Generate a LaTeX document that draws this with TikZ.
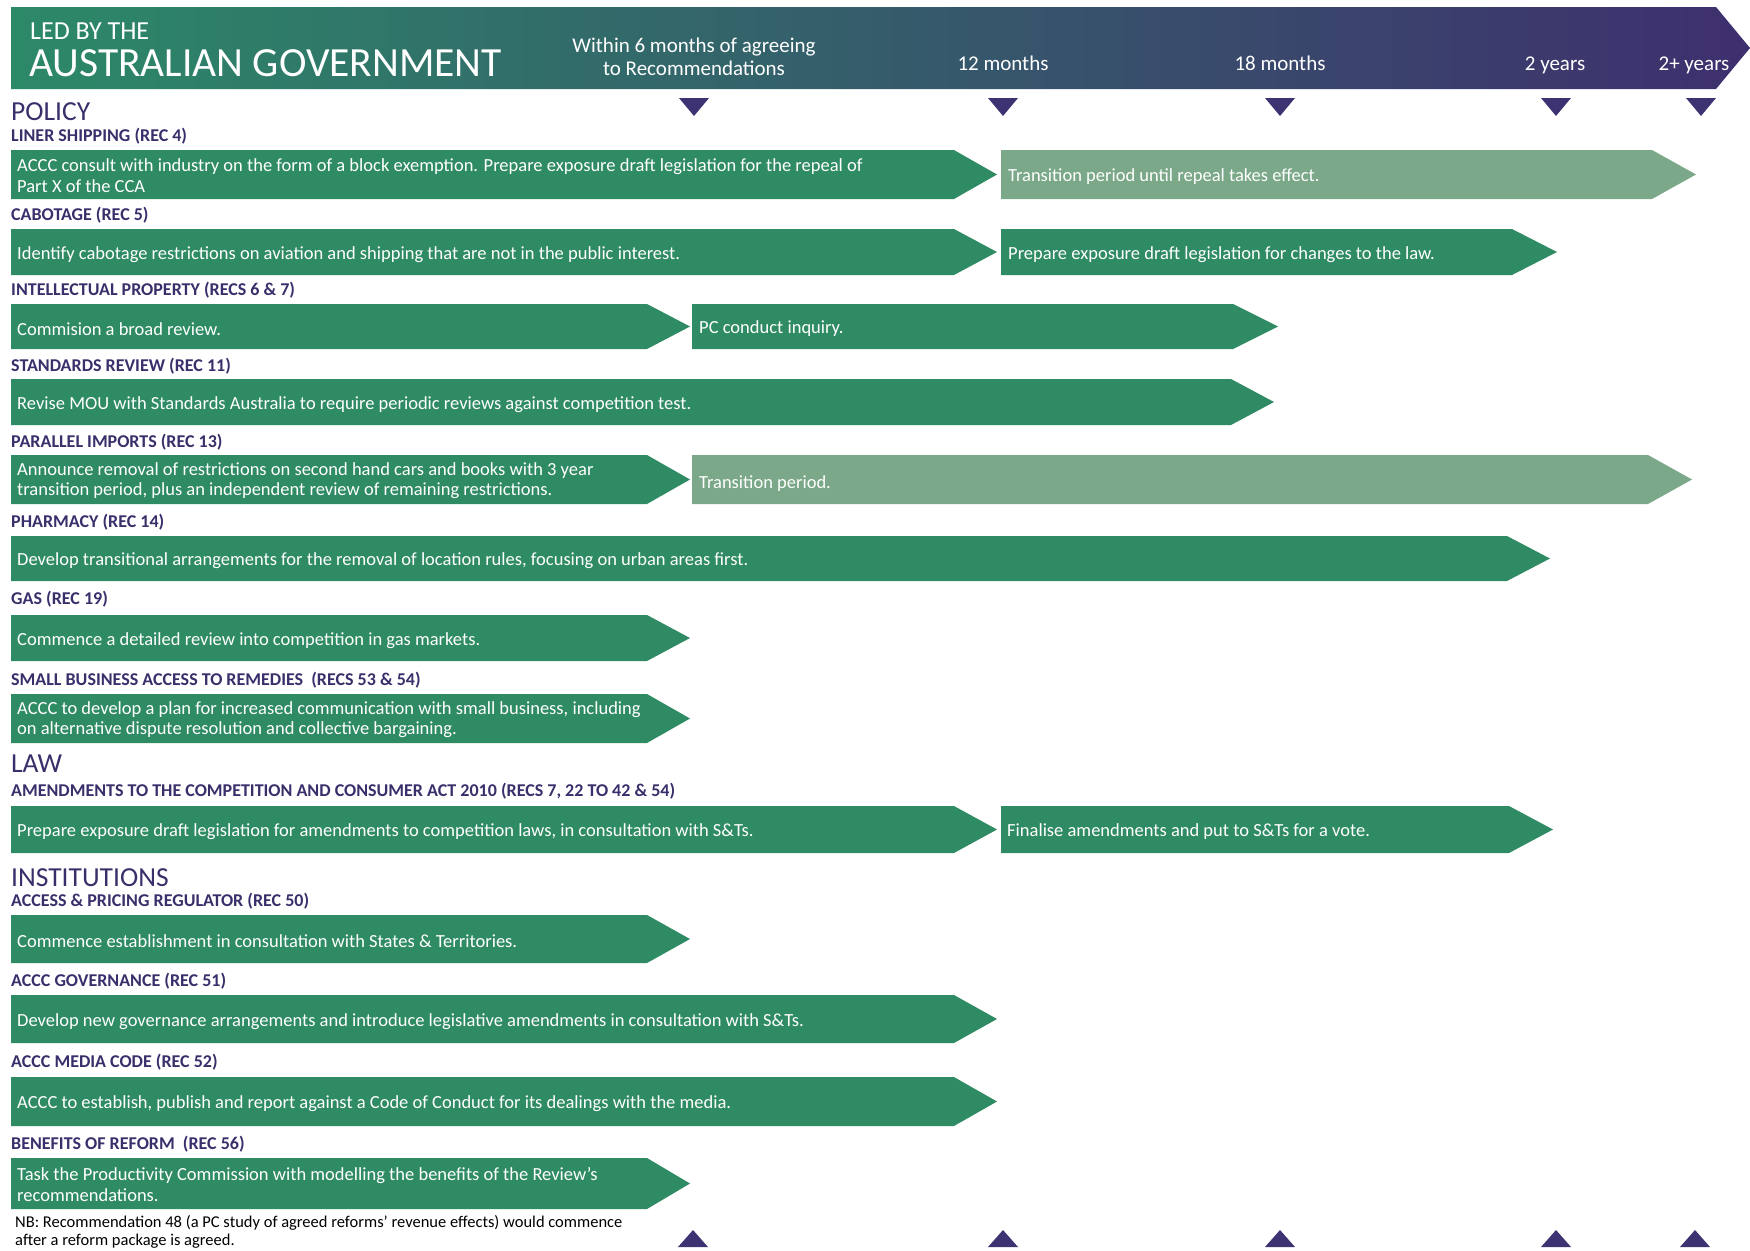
\documentclass[tikz,border=0pt]{standalone}
\usepackage{fontspec}
\setmainfont{Carlito}
\definecolor{barGreen}{RGB}{47,139,99}
\definecolor{barLight}{RGB}{122,168,136}
\definecolor{headGreen}{RGB}{44,137,104}
\definecolor{headPurple}{RGB}{62,47,110}
\definecolor{secPurple}{RGB}{58,46,107}
\definecolor{markPurple}{RGB}{61,51,115}

\begin{document}
\begin{tikzpicture}[x=1pt,y=-1pt,
  bartext/.style={anchor=west,inner sep=0pt,yshift=-2.5pt,text=white,align=left,font=\fontsize{18.5}{20.5}\selectfont},
  twoline/.style={bartext,yshift=1.5pt},
  subhead/.style={anchor=west,inner sep=0pt,text=secPurple,font=\fontsize{18}{20}\selectfont\bfseries},
  section/.style={anchor=west,inner sep=0pt,text=secPurple,font=\fontsize{27.5}{30}\selectfont},
  timelabel/.style={inner sep=0pt,text=white,align=center,font=\fontsize{21}{23}\selectfont}]
  \useasboundingbox (0,0) rectangle (1750,1250);

  % Cabecera
  \shade[left color=headGreen,right color=headPurple] (11,7) -- (1716,7) -- (1750,48) -- (1716,89) -- (11,89) -- cycle;
  \node[anchor=west,inner sep=0pt,text=white,font=\fontsize{26}{28}\selectfont] (ledby) at (30,31) {LED BY THE};
  \node[anchor=west,inner sep=0pt,text=white,font=\fontsize{41.5}{44}\selectfont] (govt) at (29,63) {AUSTRALIAN GOVERNMENT};
  \node[timelabel] (t6) at (694,57) {Within 6 months of agreeing\\to Recommendations};
  \node[timelabel] (t12) at (1003,63) {12 months};
  \node[timelabel] (t18) at (1280,63) {18 months};
  \node[timelabel] (t24) at (1555,65) {2 years};
  \node[timelabel] (t24p) at (1694,65) {2+ years};

  % Marcas
  \fill[markPurple] (679,98) -- (709,98) -- (694,116) -- cycle;
  \fill[markPurple] (988,98) -- (1018,98) -- (1003,116) -- cycle;
  \fill[markPurple] (1265,98) -- (1295,98) -- (1280,116) -- cycle;
  \fill[markPurple] (1541,98) -- (1571,98) -- (1556,116) -- cycle;
  \fill[markPurple] (1686,98) -- (1716,98) -- (1701,116) -- cycle;
  \fill[markPurple] (678,1247) -- (708,1247) -- (693,1230) -- cycle;
  \fill[markPurple] (988,1247) -- (1018,1247) -- (1003,1230) -- cycle;
  \fill[markPurple] (1265,1247) -- (1295,1247) -- (1280,1230) -- cycle;
  \fill[markPurple] (1541,1247) -- (1571,1247) -- (1556,1230) -- cycle;
  \fill[markPurple] (1680,1247) -- (1710,1247) -- (1695,1230) -- cycle;

  % Policy
  \node[section] (policy) at (11,112) {POLICY};

  \node[subhead] (liner) at (11,136) {LINER SHIPPING (REC 4)};
  \fill[barGreen] (11,150) -- (954,150) -- (997,174.5) -- (954,199) -- (11,199) -- cycle;
  \fill[barLight] (1001,150) -- (1652,150) -- (1696,174.5) -- (1652,199) -- (1001,199) -- cycle;
  \node[twoline] (linerA) at (17,174.5) {ACCC consult with industry on the form of a block exemption. Prepare exposure draft legislation for the repeal of\\Part X of the CCA};
  \node[bartext] (linerB) at (1008,174.5) {Transition period until repeal takes effect.};

  \node[subhead] (cabot) at (11,215) {CABOTAGE (REC 5)};
  \fill[barGreen] (11,229) -- (954,229) -- (997,252) -- (954,275) -- (11,275) -- cycle;
  \fill[barGreen] (1001,229) -- (1512,229) -- (1557,252) -- (1512,275) -- (1001,275) -- cycle;
  \node[bartext] (cabotA) at (17,252) {Identify cabotage restrictions on aviation and shipping that are not in the public interest.};
  \node[bartext] (cabotB) at (1008,252) {Prepare exposure draft legislation for changes to the law.};

  \node[subhead] (ip) at (11,290) {INTELLECTUAL PROPERTY (RECS 6 \& 7)};
  \fill[barGreen] (11,304) -- (647,304) -- (690,326.5) -- (647,349) -- (11,349) -- cycle;
  \fill[barGreen] (692,304) -- (1233,304) -- (1278,326.5) -- (1233,349) -- (692,349) -- cycle;
  \node[bartext] (ipA) at (17,326.5) {Commision a broad review.};
  \node[bartext] (ipB) at (699,326.5) {PC conduct inquiry.};

  \node[subhead] (stand) at (11,366) {STANDARDS REVIEW (REC 11)};
  \fill[barGreen] (11,379) -- (1231,379) -- (1274,402) -- (1231,425) -- (11,425) -- cycle;
  \node[bartext] (standA) at (17,402) {Revise MOU with Standards Australia to require periodic reviews against competition test.};

  \node[subhead] (para) at (11,442) {PARALLEL IMPORTS (REC 13)};
  \fill[barGreen] (11,455) -- (647,455) -- (690,479.5) -- (647,504) -- (11,504) -- cycle;
  \fill[barLight] (692,455) -- (1648,455) -- (1692,479.5) -- (1648,504) -- (692,504) -- cycle;
  \node[twoline] (paraA) at (17,479.5) {Announce removal of restrictions on second hand cars and books with 3 year\\transition period, plus an independent review of remaining restrictions.};
  \node[bartext] (paraB) at (699,481) {Transition period.};

  \node[subhead] (pharm) at (11,522) {PHARMACY (REC 14)};
  \fill[barGreen] (11,536) -- (1507,536) -- (1550,558.5) -- (1507,581) -- (11,581) -- cycle;
  \node[bartext] (pharmA) at (17,558.5) {Develop transitional arrangements for the removal of location rules, focusing on urban areas first.};

  \node[subhead] (gas) at (11,599) {GAS (REC 19)};
  \fill[barGreen] (11,615) -- (647,615) -- (690,638) -- (647,661) -- (11,661) -- cycle;
  \node[bartext] (gasA) at (17,638) {Commence a detailed review into competition in gas markets.};

  \node[subhead] (small) at (11,680) {SMALL BUSINESS ACCESS TO REMEDIES\ \ (RECS 53 \& 54)};
  \fill[barGreen] (11,694) -- (647,694) -- (690,718.5) -- (647,743) -- (11,743) -- cycle;
  \node[twoline] (smallA) at (17,718.5) {ACCC to develop a plan for increased communication with small business, including\\on alternative dispute resolution and collective bargaining.};

  % Law
  \node[section] (law) at (11,764) {LAW};

  \node[subhead] (cca) at (11,791) {AMENDMENTS TO THE COMPETITION AND CONSUMER ACT 2010 (RECS 7, 22 TO 42 \& 54)};
  \fill[barGreen] (11,806) -- (954,806) -- (997,829.5) -- (954,853) -- (11,853) -- cycle;
  \fill[barGreen] (1001,806) -- (1509,806) -- (1553,829.5) -- (1509,853) -- (1001,853) -- cycle;
  \node[bartext] (ccaA) at (17,829.5) {Prepare exposure draft legislation for amendments to competition laws, in consultation with S\&Ts.};
  \node[bartext] (ccaB) at (1007,829.5) {Finalise amendments and put to S\&Ts for a vote.};

  % Institutions
  \node[section] (inst) at (11,878) {INSTITUTIONS};

  \node[subhead] (access) at (11,901) {ACCESS \& PRICING REGULATOR (REC 50)};
  \fill[barGreen] (11,915) -- (647,915) -- (690,939) -- (647,963) -- (11,963) -- cycle;
  \node[bartext] (accessA) at (17,939) {Commence establishment in consultation with States \& Territories.};

  \node[subhead] (gov) at (11,981) {ACCC GOVERNANCE (REC 51)};
  \fill[barGreen] (11,995) -- (954,995) -- (997,1019) -- (954,1043) -- (11,1043) -- cycle;
  \node[bartext] (govA) at (17,1019) {Develop new governance arrangements and introduce legislative amendments in consultation with S\&Ts.};

  \node[subhead] (media) at (11,1062) {ACCC MEDIA CODE (REC 52)};
  \fill[barGreen] (11,1077) -- (954,1077) -- (997,1101.5) -- (954,1126) -- (11,1126) -- cycle;
  \node[bartext] (mediaA) at (17,1101.5) {ACCC to establish, publish and report against a Code of Conduct for its dealings with the media.};

  \node[subhead] (benef) at (11,1144) {BENEFITS OF REFORM\ \ (REC 56)};
  \fill[barGreen] (11,1158) -- (647,1158) -- (690,1183.5) -- (647,1209) -- (11,1209) -- cycle;
  \node[twoline] (benefA) at (17,1183.5) {Task the Productivity Commission with modelling the benefits of the Review’s\\recommendations.};

  % Nota
  \node[anchor=west,inner sep=0pt,align=left,font=\fontsize{16.5}{18}\selectfont] (nb) at (15,1231.5) {NB: Recommendation 48 (a PC study of agreed reforms’ revenue effects) would commence\\after a reform package is agreed.};

\end{tikzpicture}
\end{document}
